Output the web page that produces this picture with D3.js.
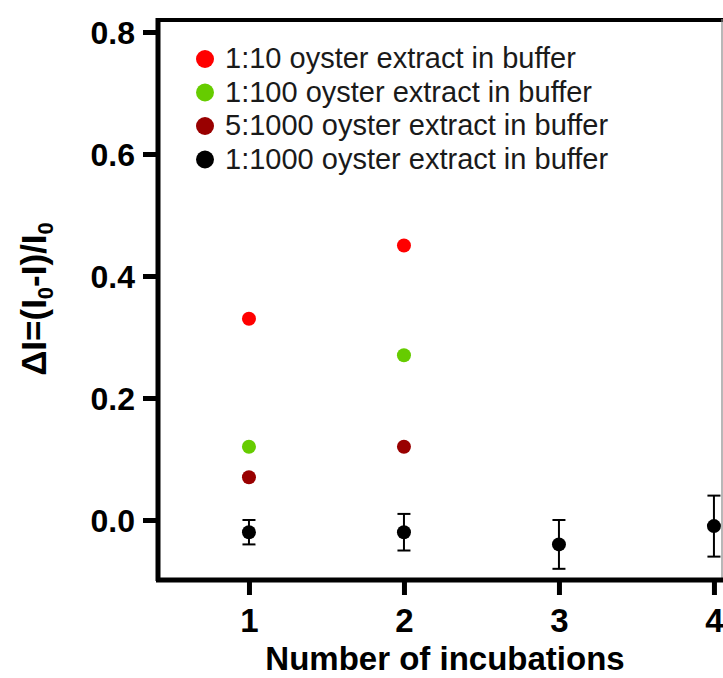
<!DOCTYPE html>
<html><head><meta charset="utf-8">
<script src="https://cdn.jsdelivr.net/npm/d3@7"></script>
<style>
html,body{margin:0;padding:0;background:#fff;}
svg{display:block;font-family:"Liberation Sans",Arial,sans-serif;}
</style></head>
<body>
<div id="chart"></div>
<script>
const incubations = [1, 2, 3, 4];
const seriesNames = ["1:10 oyster extract in buffer","1:100 oyster extract in buffer","5:1000 oyster extract in buffer","1:1000 oyster extract in buffer"];
const seriesColors = ["#ff0000","#66cc00","#990000","#000000"];
const red10 = [0.33, 0.45];
const green100 = [0.12, 0.27];
const darkred5_1000 = [0.07, 0.12];
const black1000 = [-0.02, -0.02, -0.04, -0.01];
const black1000Err = [0.02, 0.03, 0.04, 0.05];
const yTicks = [0.0, 0.2, 0.4, 0.6, 0.8];
const xTicks = [1, 2, 3, 4];

const W = 723, H = 678;
const svg = d3.select("#chart").append("svg").attr("width", W).attr("height", H);

const x = d3.scaleLinear().domain([0.426, 4.052]).range([160, 722]);
const y = d3.scaleLinear().domain([-0.0967, 0.8213]).range([579, 19]);

// frame: top thick, right thin gray
svg.append("line").attr("x1", 158).attr("x2", W).attr("y1", y(0.8213)+1).attr("y2", y(0.8213)+1)
  .attr("stroke", "#000").attr("stroke-width", 4);
svg.append("line").attr("x1", 722).attr("x2", 722).attr("y1", 19).attr("y2", 579)
  .attr("stroke", "#888").attr("stroke-width", 1.2);

// y axis
const yAxis = d3.axisLeft(y).tickValues(yTicks).tickFormat(d3.format(".1f")).tickSize(15).tickPadding(8);
const gy = svg.append("g").attr("transform", "translate(158,0)").call(yAxis);
gy.select(".domain").attr("stroke", "#000").attr("stroke-width", 5).attr("d", `M0,${y(0.8213)-1}V${y(-0.0967)+2}`);
gy.selectAll(".tick line").attr("stroke", "#000").attr("stroke-width", 5);
gy.selectAll(".tick text").attr("fill", "#000").attr("font-size", 32).attr("font-weight", "bold")
  .attr("font-family", "Liberation Sans, Arial, sans-serif").attr("dy", "0.36em");

// x axis
const xAxis = d3.axisBottom(x).tickValues(xTicks).tickFormat(d3.format("d")).tickSize(15).tickPadding(14);
const gx = svg.append("g").attr("transform", "translate(0,580)").call(xAxis);
gx.select(".domain").attr("stroke", "#000").attr("stroke-width", 5).attr("d", `M156,0H${W}`);
gx.selectAll(".tick line").attr("stroke", "#000").attr("stroke-width", 5);
gx.selectAll(".tick text").attr("fill", "#000").attr("font-size", 33).attr("font-weight", "bold")
  .attr("font-family", "Liberation Sans, Arial, sans-serif");

// axis titles
svg.append("text").attr("x", 445).attr("y", 670).attr("text-anchor", "middle")
  .attr("font-size", 33).attr("font-weight", "bold").attr("fill", "#000").text("Number of incubations");

const yl = svg.append("text").attr("transform", "translate(46,299) rotate(-90)").attr("text-anchor", "middle")
  .attr("font-size", 35).attr("font-weight", "bold").attr("fill", "#000");
yl.append("tspan").text("ΔI=(I");
yl.append("tspan").attr("font-size", 22).attr("dy", 7).text("0");
yl.append("tspan").attr("dy", -7).text("-I)/I");
yl.append("tspan").attr("font-size", 22).attr("dy", 7).text("0");

// points
function dots(vals, color) {
  svg.append("g").selectAll("circle").data(vals).join("circle")
    .attr("cx", (d, i) => x(incubations[i])).attr("cy", d => y(d)).attr("r", 7).attr("fill", color);
}
dots(red10, seriesColors[0]);
dots(green100, seriesColors[1]);
dots(darkred5_1000, seriesColors[2]);

// black with error bars
const eb = svg.append("g").attr("stroke", "#000").attr("stroke-width", 2);
black1000.forEach((v, i) => {
  const cx = x(incubations[i]);
  const e = black1000Err[i];
  eb.append("line").attr("x1", cx).attr("x2", cx).attr("y1", y(v + e)).attr("y2", y(v - e));
  eb.append("line").attr("x1", cx - 6.5).attr("x2", cx + 6.5).attr("y1", y(v + e)).attr("y2", y(v + e));
  eb.append("line").attr("x1", cx - 6.5).attr("x2", cx + 6.5).attr("y1", y(v - e)).attr("y2", y(v - e));
});
dots(black1000, seriesColors[3]);

// legend
const lg = svg.append("g").attr("transform", "translate(205,59)");
seriesNames.forEach((name, i) => {
  const g = lg.append("g").attr("transform", `translate(0,${i * 33.5})`);
  g.append("circle").attr("r", 9).attr("fill", seriesColors[i]);
  g.append("text").attr("x", 20).attr("y", 9).attr("font-size", 29).attr("fill", "#1a1a1a").text(name);
});
</script>
</body></html>
